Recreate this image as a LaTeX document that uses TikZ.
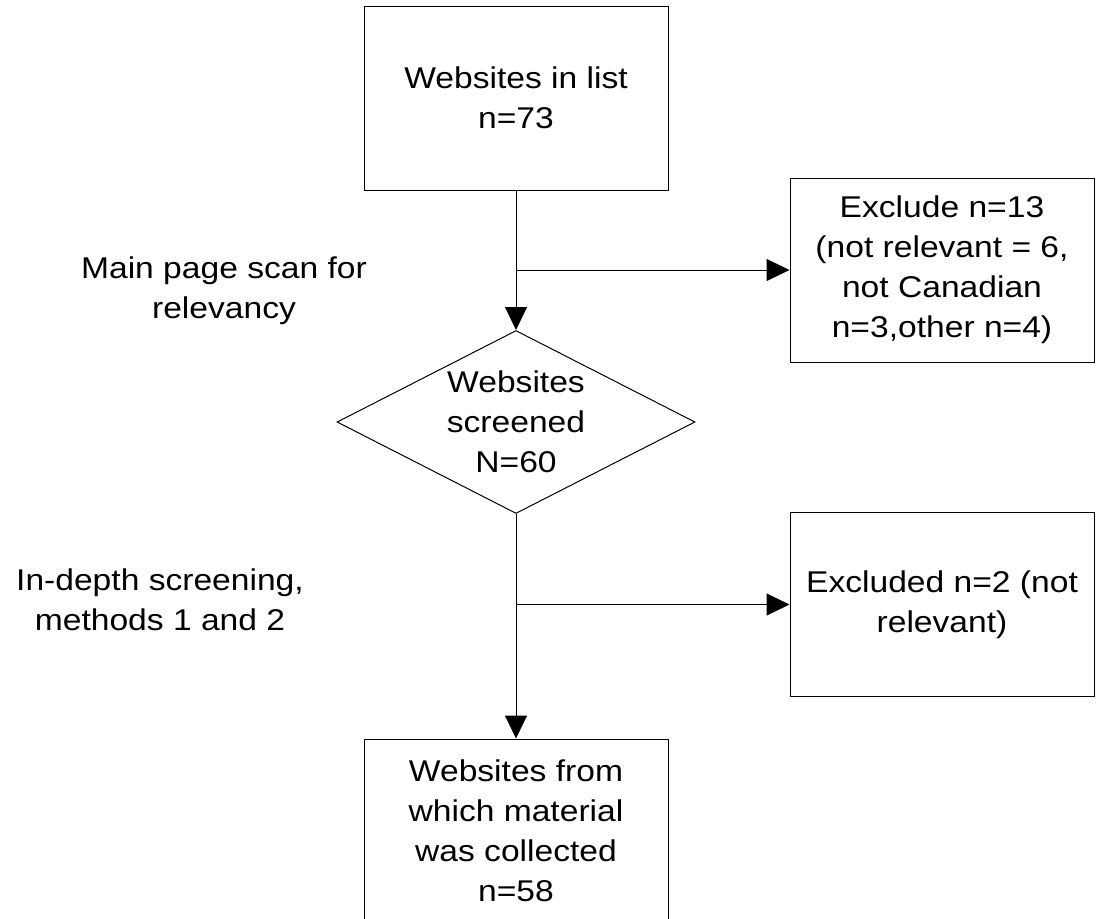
\documentclass[tikz,border=0pt]{standalone}
\usepackage{fontspec}
\setmainfont{Liberation Sans}[FakeStretch=1.12]
\usetikzlibrary{shapes.geometric,arrows.meta}

\tikzset{
  box/.style={draw, line width=1pt, minimum width=304pt, minimum height=184pt,
    inner sep=0pt, align=center, font=\fontsize{30}{40}\selectfont},
  decision/.style={draw, diamond, line width=1pt, minimum width=358pt,
    minimum height=183pt, inner sep=0pt},
  txt/.style={align=center, font=\fontsize{30}{40}\selectfont},
  flow/.style={line width=1pt, -{Triangle[length=23pt,width=22pt]}}
}

\begin{document}
\begin{tikzpicture}[x=1pt, y=-1pt]
            \useasboundingbox (0,0) rectangle (1099,918);
            % main column
            \node[box] (list) at (516,98) {Websites in list\\n=73};
            \node[decision] (screen) at (516,422) {};
            \node[txt] (screentext) at (screen.center) {Websites\\screened\\N=60};
            \node[box] (collect) at (516,831) {Websites from\\which material\\was collected\\n=58};
            % excluded boxes
            \node[box] (excl1) at (942,270) {Exclude n=13\\(not relevant = 6,\\not Canadian\\n=3,other n=4)};
            \node[box] (excl2) at (942,604.5) {Excluded n=2 (not\\relevant)};
            % step labels
            \node[txt] (scan) at (224,291) {Main page scan for\\relevancy};
            \node[txt] (indepth) at (160,600) {In-depth screening,\\methods 1 and 2};
            % arrows
            \draw[flow] (list) -- (screen);
            \draw[flow] (screen) -- (collect);
            \coordinate (b1) at (list.south |- excl1.west);
            \coordinate (b2) at (screen.south |- excl2.west);
            \draw[flow] (b1) -- (excl1.west);
            \draw[flow] (b2) -- (excl2.west);
        \end{tikzpicture}
\end{document}
